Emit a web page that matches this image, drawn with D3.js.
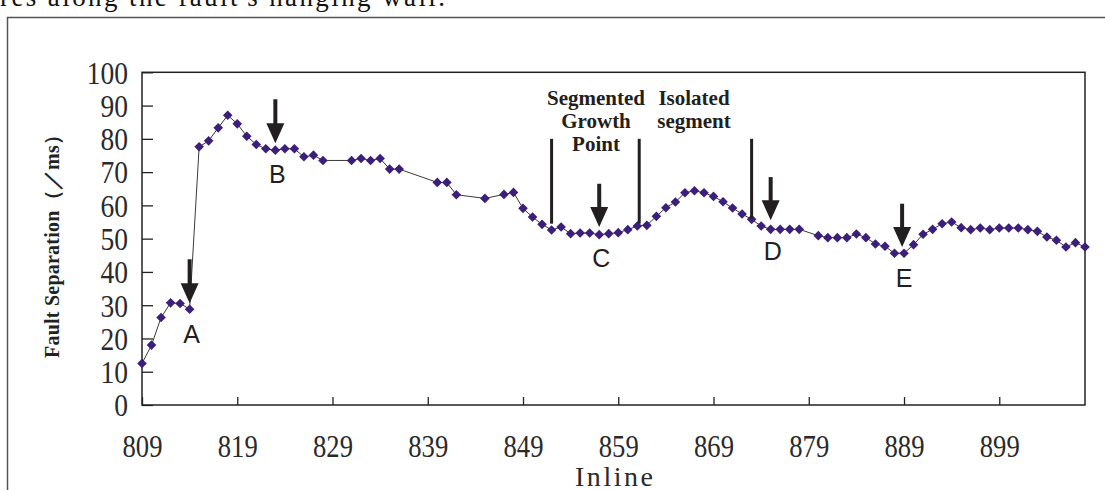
<!DOCTYPE html>
<html>
<head>
<meta charset="utf-8">
<script src="https://cdn.jsdelivr.net/npm/d3@7"></script>
<style>
    html, body { margin: 0; padding: 0; background: #fff; }
    svg { display: block; }
</style>
</head>
<body>
<div id="chart"></div>
<script>
// inlines that carry a value (some inlines are missing and the line just jumps over them)
const inlines = [809, 810, 811, 812, 813, 814, 815, 816, 817, 818, 819, 820, 821, 822, 823, 824, 825, 826, 827, 828,
    831, 832, 833, 834, 835, 836, 840, 841, 842, 845, 847, 848, 849, 850, 851, 852, 853, 854, 855, 856, 857, 858,
    859, 860, 861, 862, 863, 864, 865, 866, 867, 868, 869, 870, 871, 872, 873, 874, 875, 876, 877, 878,
    880, 881, 882, 883, 884, 885, 886, 887, 888, 889, 890, 891, 892, 893, 894, 895, 896, 897, 898, 899,
    900, 901, 902, 903, 904, 905, 906, 907, 908];
const separation = [12.5, 18.0, 26.3, 30.7, 30.5, 28.8, 77.6, 79.4, 83.3, 87.1, 84.5, 80.8, 78.3, 77.0, 76.6, 77.0, 77.0, 74.6, 75.1, 73.5,
    73.5, 74.1, 73.5, 74.1, 70.9, 70.9, 66.9, 66.9, 63.2, 62.1, 63.3, 63.9, 59.1, 56.5, 54.3, 52.6, 53.5, 51.5, 51.7, 51.7, 51.2, 51.5,
    51.8, 52.7, 53.8, 54.0, 56.7, 59.3, 61.0, 63.8, 64.4, 63.8, 62.7, 61.1, 59.2, 57.4, 55.8, 53.8, 52.8, 52.8, 52.8, 52.8,
    50.9, 50.3, 50.3, 50.3, 51.4, 50.3, 48.4, 47.7, 45.6, 45.6, 48.2, 51.3, 52.8, 54.5, 55.0, 53.3, 52.7, 53.2, 52.7, 53.2,
    53.2, 53.2, 52.7, 52.2, 50.5, 49.5, 47.5, 48.8, 47.5];

const xTickLabels = [809, 819, 829, 839, 849, 859, 869, 879, 889, 899];
const yTickLabels = [0, 10, 20, 30, 40, 50, 60, 70, 80, 90, 100];

// arrows: label, inline, top of shaft and tip (in ms)
const arrowLabels = ['A', 'B', 'C', 'D', 'E'];
const arrowInlines = [814, 823, 857, 875, 888.8];
const arrowTops = [43.8, 91.9, 66.5, 68.5, 60.5];
const arrowTips = [30.6, 78.7, 53.5, 55.5, 47.5];

// vertical marker bars: inline, top, bottom (in ms)
const barInlines = [852, 861.2, 873];
const barTops = [80, 80, 80];
const barBottoms = [54.5, 54.5, 56];

class FaultChart {

    constructor(parentElement) {
        this.parentElement = parentElement;
        this.initVis();
    }

    initVis() {
        let vis = this;

        vis.width = 1105;
        vis.height = 490;
        vis.plot = {left: 142, right: 1085, top: 72.3, bottom: 405};

        vis.svg = d3.select("#" + vis.parentElement).append("svg")
            .attr("width", vis.width)
            .attr("height", vis.height);

        // cut-off caption text above the figure frame
        vis.svg.append("text")
            .attr("x", 0)
            .attr("y", 6)
            .attr("textLength", 445)
            .attr("lengthAdjust", "spacing")
            .style("font-family", "'Liberation Serif', serif")
            .style("font-size", "27px")
            .style("fill", "#111")
            .text("res along the fault's hanging wall.");

        // figure frame (only top and left edge are in view)
        vis.svg.append("path")
            .attr("d", "M7.5," + vis.height + " V17.5 H" + (vis.width + 5))
            .attr("fill", "none")
            .attr("stroke", "#555")
            .attr("stroke-width", 1.5);

        vis.x = d3.scaleLinear()
            .domain([809, 908])
            .range([vis.plot.left, vis.plot.right]);

        vis.y = d3.scaleLinear()
            .domain([0, 100])
            .range([vis.plot.bottom, vis.plot.top]);

        vis.data = inlines.map((d, i) => ({inline: d, value: separation[i]}));

        vis.wrangleData();
    }

    wrangleData() {
        let vis = this;

        vis.arrows = arrowLabels.map((d, i) => ({
            label: d, inline: arrowInlines[i], top: arrowTops[i], tip: arrowTips[i]
        }));
        vis.bars = barInlines.map((d, i) => ({inline: d, top: barTops[i], bottom: barBottoms[i]}));

        vis.updateVis();
    }

    updateVis() {
        let vis = this;
        const tickFont = "'Liberation Serif', 'DejaVu Serif', serif";

        // y axis, ticks inside the plot
        let yAxis = d3.axisLeft(vis.y)
            .tickValues(yTickLabels)
            .tickSizeInner(-11)
            .tickSizeOuter(0)
            .tickFormat(d3.format("d"));

        let yG = vis.svg.append("g")
            .attr("transform", "translate(" + vis.plot.left + ",0)")
            .call(yAxis);
        yG.select(".domain").remove();
        yG.selectAll(".tick line").attr("stroke", "#222").attr("stroke-width", 1.3);
        yG.selectAll(".tick text")
            .attr("x", 0)
            .attr("dy", "0.34em")
            .attr("transform", "translate(-14,0) scale(0.86,1)")
            .style("font-family", tickFont)
            .style("font-size", "32px")
            .style("fill", "#2a2a2a");

        // x axis
        let xAxis = d3.axisBottom(vis.x)
            .tickValues(xTickLabels)
            .tickSizeInner(-8)
            .tickSizeOuter(0)
            .tickFormat(d3.format("d"));

        let xG = vis.svg.append("g")
            .attr("transform", "translate(0," + vis.plot.bottom + ")")
            .call(xAxis);
        xG.select(".domain").remove();
        xG.selectAll(".tick line").attr("stroke", "#222").attr("stroke-width", 1.3);
        xG.selectAll(".tick text")
            .attr("y", 52)
            .attr("dy", 0)
            .attr("transform", "scale(0.86,1)")
            .style("font-family", tickFont)
            .style("font-size", "31px")
            .style("fill", "#2a2a2a");

        // plot border
        vis.svg.append("rect")
            .attr("x", vis.plot.left)
            .attr("y", vis.plot.top)
            .attr("width", vis.plot.right - vis.plot.left)
            .attr("height", vis.plot.bottom - vis.plot.top)
            .attr("fill", "none")
            .attr("stroke", "#222")
            .attr("stroke-width", 1.5);

        // axis titles
        vis.svg.append("text")
            .attr("transform", "translate(59,241.5) rotate(-90)")
            .attr("text-anchor", "middle")
            .attr("textLength", 233)
            .attr("lengthAdjust", "spacing")
            .style("font-family", "'Liberation Serif', serif")
            .style("font-weight", "bold")
            .style("font-size", "20px")
            .style("fill", "#222")
            .text("Fault Separation（／ms）");

        vis.svg.append("text")
            .attr("x", 614)
            .attr("y", 486)
            .attr("text-anchor", "middle")
            .attr("textLength", 78)
            .attr("lengthAdjust", "spacing")
            .style("font-family", tickFont)
            .style("font-size", "28px")
            .style("fill", "#2a2a2a")
            .text("Inline");

        // connecting line
        let line = d3.line()
            .x(d => vis.x(d.inline))
            .y(d => vis.y(d.value));

        vis.svg.append("path")
            .datum(vis.data)
            .attr("d", line)
            .attr("fill", "none")
            .attr("stroke", "#3a3a3a")
            .attr("stroke-width", 1);

        // diamond markers
        const r = 4.8;
        vis.svg.selectAll(".marker")
            .data(vis.data)
            .enter()
            .append("path")
            .attr("class", "marker")
            .attr("transform", d => "translate(" + vis.x(d.inline) + "," + vis.y(d.value) + ")")
            .attr("d", "M0," + (-r) + "L" + r + ",0L0," + r + "L" + (-r) + ",0Z")
            .attr("fill", "#3b1f7a");

        // vertical marker bars
        vis.svg.selectAll(".bar")
            .data(vis.bars)
            .enter()
            .append("line")
            .attr("class", "bar")
            .attr("x1", d => vis.x(d.inline))
            .attr("x2", d => vis.x(d.inline))
            .attr("y1", d => vis.y(d.top))
            .attr("y2", d => vis.y(d.bottom))
            .attr("stroke", "#231f20")
            .attr("stroke-width", 3);

        // arrows with letters
        const headLen = 20, headHalf = 9;
        let arrowG = vis.svg.selectAll(".arrow")
            .data(vis.arrows)
            .enter()
            .append("g")
            .attr("class", "arrow");

        arrowG.append("line")
            .attr("x1", d => vis.x(d.inline))
            .attr("x2", d => vis.x(d.inline))
            .attr("y1", d => vis.y(d.top))
            .attr("y2", d => vis.y(d.tip) - headLen + 1)
            .attr("stroke", "#231f20")
            .attr("stroke-width", 4);

        arrowG.append("path")
            .attr("d", function(d) {
                let cx = vis.x(d.inline), ty = vis.y(d.tip);
                return "M" + (cx - headHalf) + "," + (ty - headLen) + "L" + (cx + headHalf) + "," + (ty - headLen) + "L" + cx + "," + ty + "Z";
            })
            .attr("fill", "#231f20");

        arrowG.append("text")
            .attr("x", d => vis.x(d.inline) + 2)
            .attr("y", d => vis.y(d.tip) + 40)
            .attr("text-anchor", "middle")
            .style("font-family", "'Liberation Sans', Arial, sans-serif")
            .style("font-size", "25px")
            .style("fill", "#231f20")
            .text(d => d.label);

        // notes over the middle part
        let notes = vis.svg.append("g")
            .style("font-family", "'Liberation Serif', serif")
            .style("font-weight", "bold")
            .style("font-size", "21px")
            .style("fill", "#231f20")
            .attr("text-anchor", "middle");

        notes.append("text").attr("x", 596).attr("y", 105).text("Segmented");
        notes.append("text").attr("x", 596).attr("y", 128).text("Growth");
        notes.append("text").attr("x", 596).attr("y", 151).text("Point");
        notes.append("text").attr("x", 694).attr("y", 105).text("Isolated");
        notes.append("text").attr("x", 694).attr("y", 128).text("segment");
    }
}

new FaultChart("chart");
</script>
</body>
</html>
